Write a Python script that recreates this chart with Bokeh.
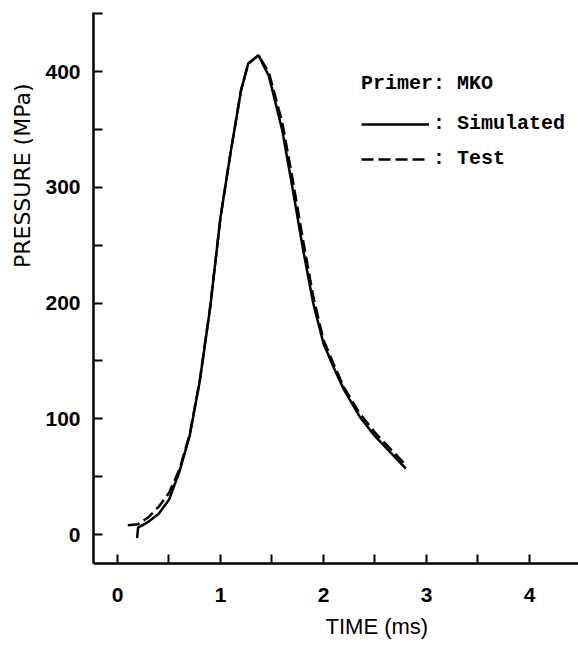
from bokeh.plotting import figure
from bokeh.models import Legend, LegendItem, Title, FixedTicker, Range1d
from bokeh.embed import file_html
from bokeh.resources import INLINE

# ---- data ----
sim_time = [0.19, 0.20, 0.30, 0.40, 0.50, 0.60, 0.70, 0.80, 0.90, 1.00, 1.10, 1.20,
            1.27, 1.37, 1.47, 1.60, 1.70, 1.80, 1.90, 2.00, 2.10, 2.20, 2.35, 2.50,
            2.65, 2.80]
sim_pressure = [-3, 6, 11, 18, 30, 54, 85, 133, 196, 274, 331, 384,
                407, 414, 396, 349, 299, 247, 200, 165, 144, 125, 102, 85,
                71, 57]

test_time = [0.10, 0.20, 0.30, 0.40, 0.50, 0.60, 0.70, 0.80, 0.90, 1.00, 1.10, 1.20,
             1.27, 1.37, 1.47, 1.60, 1.70, 1.80, 1.90, 2.00, 2.10, 2.20, 2.35, 2.50,
             2.65, 2.80]
test_pressure = [8, 9, 15, 24, 36, 56, 86, 134, 197, 274, 331, 384,
                 407, 414, 399, 356, 307, 255, 206, 168, 147, 127, 105, 88,
                 74, 60]

x_major = [0, 1, 2, 3, 4]
x_minor = [0.5, 1.5, 2.5, 3.5]
y_major = [0, 100, 200, 300, 400]
y_minor = [50, 150, 250, 350, 450]

legend_title = "Primer: MKO"
legend_labels = [": Simulated", ": Test"]
x_title = "TIME (ms)"
y_title = "PRESSURE (MPa)"

TICK_FONT = "Liberation Sans"
MONO = "Liberation Mono"

p = figure(width=578, height=647,
           x_range=Range1d(-0.233, 4.476), y_range=Range1d(-25, 451),
           output_backend="svg", toolbar_location=None,
           min_border_left=93, min_border_right=0,
           min_border_top=12, min_border_bottom=84)

p.outline_line_color = None
p.xgrid.visible = False
p.ygrid.visible = False
p.background_fill_color = "white"
p.border_fill_color = "white"

r_sim = p.line(sim_time, sim_pressure, line_color="black", line_width=2.5)
r_test = p.line(test_time, test_pressure, line_color="black", line_width=2.5,
                line_dash="12 5")

for ax, maj, mn in ((p.xaxis[0], x_major, x_minor), (p.yaxis[0], y_major, y_minor)):
    ax.ticker = FixedTicker(ticks=maj, minor_ticks=mn)
    ax.axis_line_width = 2.5
    ax.axis_line_color = "black"
    ax.major_tick_in = 9
    ax.major_tick_out = 0
    ax.minor_tick_in = 9
    ax.minor_tick_out = 0
    ax.major_tick_line_width = 2
    ax.minor_tick_line_width = 2
    ax.major_tick_line_color = "black"
    ax.minor_tick_line_color = "black"
    ax.major_label_text_font = TICK_FONT
    ax.major_label_text_font_size = "21px"
    ax.major_label_text_font_style = "bold"
    ax.major_label_text_color = "black"

p.xaxis.major_label_standoff = 24
p.yaxis.major_label_standoff = 13

p.add_layout(Title(text=x_title, align="left", offset=232, standoff=14,
                   text_font=TICK_FONT, text_font_size="22px",
                   text_font_style="normal", text_color="black"), "below")
p.add_layout(Title(text=y_title, align="right", offset=71, standoff=15,
                   text_font="DejaVu Sans", text_font_size="22px",
                   text_font_style="normal", text_color="black"), "left")

legend = Legend(
    items=[LegendItem(label=legend_labels[0], renderers=[r_sim]),
           LegendItem(label=legend_labels[1], renderers=[r_test])],
    location=(268, 393),
    title=legend_title,
    title_text_font=MONO, title_text_font_style="bold",
    title_text_font_size="20px", title_text_color="black",
    title_standoff=17,
    label_text_font=MONO, label_text_font_style="bold",
    label_text_font_size="20px", label_text_color="black",
    glyph_width=68, glyph_height=20, label_height=20,
    label_standoff=4, spacing=12, padding=0, margin=0,
    border_line_color=None, background_fill_alpha=0,
)
p.add_layout(legend)

open("out.html", "w").write(file_html(p, INLINE))
